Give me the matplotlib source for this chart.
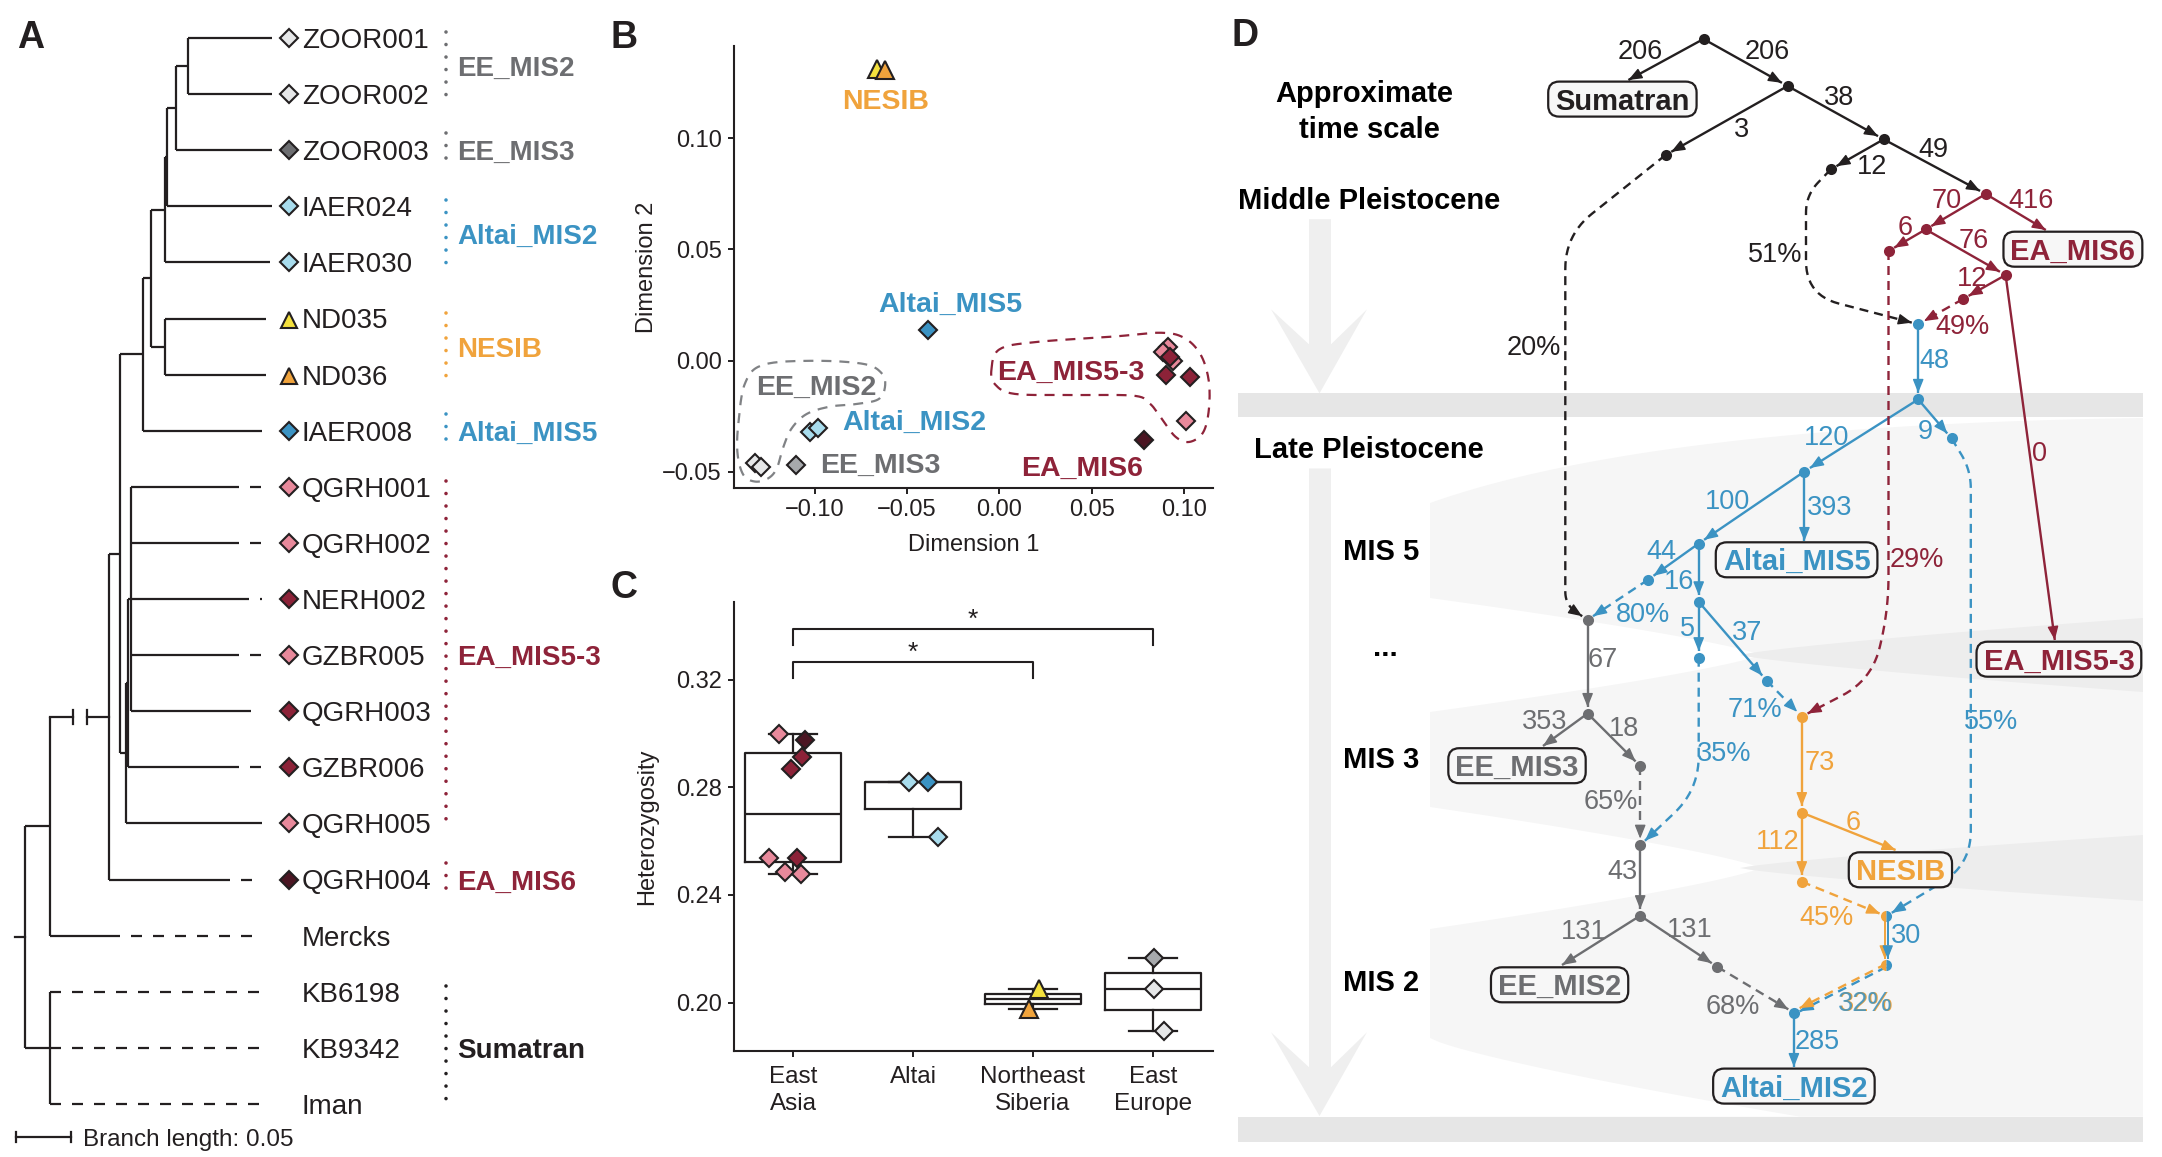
import numpy as np
import matplotlib
matplotlib.use("Agg")
import matplotlib.pyplot as plt
from matplotlib.patches import FancyBboxPatch, Polygon, Rectangle
from matplotlib.ticker import FuncFormatter

W, H = 2162, 1157
plt.rcParams["font.family"] = ["Liberation Sans", "DejaVu Sans"]
NARROW = ["Liberation Sans Narrow", "Liberation Sans", "DejaVu Sans"]

INK = "#231f20"
GREY = "#6d6e71"
BLUE = "#3b93c3"
ORANGE = "#f0a33c"
RED = "#8e2339"
PINK = "#e8899b"
CRIMSON = "#8c2238"
DARKRED = "#4b1623"
LIGHTBLUE = "#a8dced"
YELLOW = "#f4e03d"
MIDGREY = "#a7a9ac"
PALEGREY = "#e6e7e8"

# ---------------- panel A: tree ----------------
tip_names = ["ZOOR001", "ZOOR002", "ZOOR003", "IAER024", "IAER030", "ND035", "ND036",
             "IAER008", "QGRH001", "QGRH002", "NERH002", "GZBR005", "QGRH003", "GZBR006",
             "QGRH005", "QGRH004", "Mercks", "KB6198", "KB9342", "Iman"]
tip_solid_end = [272, 272, 272, 272, 270, 266, 266, 262, 239, 239, 249, 239, 251, 239,
                 262, 230, 109, 50, 50, 50]
tip_fill = [PALEGREY, PALEGREY, GREY, LIGHTBLUE, LIGHTBLUE, YELLOW, ORANGE, BLUE,
            PINK, PINK, CRIMSON, PINK, CRIMSON, CRIMSON, PINK, DARKRED, None, None, None, None]
tip_marker = ["D"] * 5 + ["^"] * 2 + ["D"] * 9 + [None] * 4
# internal nodes: name -> (x in px, children)
tree_nodes = {
    "zoor12": (187.5, [0, 1]),
    "zoor": (176, ["zoor12", 2]),
    "n_a": (167, ["zoor", 3]),
    "n_b": (165, ["n_a", 4]),
    "nes": (165, [5, 6]),
    "n_c": (151, ["n_b", "nes"]),
    "n_d": (143, ["n_c", 7]),
    "ea2": (131, [8, 9, 10, 11, 12]),
    "ea1": (128, ["ea2", 13]),
    "ea": (126, ["ea1", 14]),
    "n_e": (120, ["n_d", "ea"]),
    "n_f": (109, ["n_e", 15]),
    "n_g": (50, ["n_f", 16]),
    "sum": (50, [17, 18, 19]),
    "root": (25, ["n_g", "sum"]),
}
groups_A = [("EE_MIS2", 0, 1, GREY), ("EE_MIS3", 2, 2, GREY), ("Altai_MIS2", 3, 4, BLUE),
            ("NESIB", 5, 6, ORANGE), ("Altai_MIS5", 7, 7, BLUE), ("EA_MIS5-3", 8, 14, RED),
            ("EA_MIS6", 15, 15, RED), ("Sumatran", 17, 19, INK)]

# ---------------- panel B: MDS ----------------
pc_x = [-0.0663, -0.0621, -0.0385, 0.0912, 0.0887, 0.0941, 0.0925, 0.0905, 0.1031, 0.1013,
        0.0785, -0.1025, -0.0980, -0.1101, -0.1323, -0.1292]
pc_y = [0.1312, 0.1304, 0.0137, 0.0062, 0.0040, -0.0004, 0.0015, -0.0064, -0.0072, -0.0270,
        -0.0357, -0.0319, -0.0304, -0.0469, -0.0461, -0.0479]
pc_fill = [YELLOW, ORANGE, BLUE, PINK, PINK, PINK, CRIMSON, CRIMSON, CRIMSON, PINK,
           DARKRED, LIGHTBLUE, LIGHTBLUE, MIDGREY, PALEGREY, PALEGREY]
pc_marker = ["^", "^"] + ["D"] * 14
b_labels = ["NESIB", "Altai_MIS5", "EA_MIS5-3", "EE_MIS2", "Altai_MIS2", "EE_MIS3", "EA_MIS6"]
b_lab_x = [-0.0616, -0.0267, 0.0385, -0.0989, -0.0460, -0.0642, 0.0449]
b_lab_y = [0.1176, 0.0266, -0.0042, -0.0109, -0.0266, -0.0458, -0.0474]
b_lab_col = [ORANGE, BLUE, RED, GREY, BLUE, GREY, RED]
hull_ee_x = [-0.1413, -0.1377, -0.1278, -0.1007, -0.0736, -0.0637, -0.0619, -0.0655, -0.0772,
             -0.0917, -0.1043, -0.1124, -0.1169, -0.1205, -0.1251, -0.1322, -0.1386, -0.1418]
hull_ee_y = [-0.0281, -0.0102, -0.0019, -0.0001, -0.0015, -0.0057, -0.0117, -0.0174, -0.0195,
             -0.0207, -0.0240, -0.0304, -0.0387, -0.0484, -0.0529, -0.0544, -0.0514, -0.0416]
hull_ea_x = [-0.0043, 0.0000, 0.0193, 0.0620, 0.0877, 0.1005, 0.1091, 0.1134, 0.1134, 0.1102,
             0.1027, 0.0952, 0.0877, 0.0813, 0.0727, 0.0406, 0.0085, -0.0022]
hull_ea_y = [-0.0042, 0.0050, 0.0083, 0.0108, 0.0125, 0.0100, 0.0025, -0.0091, -0.0225, -0.0325,
             -0.0366, -0.0341, -0.0258, -0.0192, -0.0158, -0.0155, -0.0150, -0.0108]

# ---------------- panel C: heterozygosity ----------------
regions = ["East\nAsia", "Altai", "Northeast\nSiberia", "East\nEurope"]
het_x = [[0.881, 1.096, 1.079, 0.984, 0.802, 1.030, 0.931, 1.066],
         [1.963, 2.128, 2.210],
         [3.050, 2.970],
         [4.007, 4.007, 4.090]]
het_y = [[0.2999, 0.2978, 0.2913, 0.2867, 0.2538, 0.2537, 0.2487, 0.2478],
         [0.2820, 0.2820, 0.2616],
         [0.2052, 0.1977],
         [0.2166, 0.2052, 0.1894]]
het_fill = [[PINK, DARKRED, CRIMSON, CRIMSON, PINK, CRIMSON, PINK, PINK],
            [LIGHTBLUE, BLUE, LIGHTBLUE],
            [YELLOW, ORANGE],
            [MIDGREY, PALEGREY, PALEGREY]]
het_marker = ["D", "D", "^", "D"]
sig_pairs = [(1, 3, 0.3267), (1, 4, 0.3389)]

# ---------------- panel D: admixture graph ----------------
d_nodes = {
    "root": (1703.5, 39), "a": (1787.6, 86), "b": (1883.7, 139.3), "c": (1665.6, 155),
    "d": (1830.8, 169.4),
    "r1": (1985.8, 194), "r2": (1925.7, 229.4), "r3": (1888.5, 251), "r4": (2005.6, 275),
    "r5": (1962.9, 299.1),
    "b1": (1918.2, 324.3), "b2": (1918.2, 399.4), "b3": (1951.5, 438.4), "b4": (1804.4, 471.5),
    "b5": (1698.7, 543.5), "b6": (1648.2, 579.6), "b7": (1698.7, 601.8), "b8": (1698.7, 657.7),
    "b9": (1766.5, 680.5),
    "g1": (1587.6, 619.8), "g2": (1587.6, 713.5), "g3": (1640.2, 766), "g4": (1640.2, 845.2),
    "g5": (1640.2, 915.7), "g6": (1717.2, 966.8),
    "o1": (1801.8, 716.5), "o2": (1801.8, 812.6), "o3": (1801.8, 881.7),
    "m1": (1886.2, 916.2), "m2": (1886.2, 965.4), "bf": (1793.9, 1012.7),
}
node_col = {"root": INK, "a": INK, "b": INK, "c": INK, "d": INK, "bf": BLUE}
d_boxes = [("Sumatran", 1622.4, 99.1, INK), ("EA_MIS6", 2072.9, 249.2, RED),
           ("Altai_MIS5", 1796.6, 559.8, BLUE), ("EA_MIS5-3", 2058.9, 659.2, RED),
           ("EE_MIS3", 1517, 765.7, GREY), ("NESIB", 1900.4, 869.8, ORANGE),
           ("EE_MIS2", 1559.6, 984.8, GREY), ("Altai_MIS2", 1793.9, 1086.1, BLUE)]
box_tip = {"Sumatran": (1628.4, 80), "EA_MIS6": (2045.8, 230), "EA_MIS5-3": (2054.8, 640),
           "Altai_MIS5": (1804.4, 541), "Altai_MIS2": (1793.9, 1067), "EE_MIS3": (1543, 746),
           "EE_MIS2": (1562, 965), "NESIB": (1895.6, 850)}
d_edges = [
    ("root", "Sumatran", INK, "206", (1640.4, 49.2)),
    ("root", "a", INK, "206", (1767.7, 49.2)),
    ("a", "b", INK, "38", (1838.6, 94.9)),
    ("a", "c", INK, "3", (1741.3, 127.3)),
    ("b", "d", INK, "12", (1871.6, 164)),
    ("b", "r1", INK, "49", (1933.5, 147.1)),
    ("r1", "r2", RED, "70", (1946.7, 198.2)),
    ("r1", "EA_MIS6", RED, "416", (2030.8, 198.2)),
    ("r2", "r3", RED, "6", (1904.7, 225.2)),
    ("r2", "r4", RED, "76", (1973.8, 238.4)),
    ("r4", "r5", RED, "12", (1972, 276.3)),
    ("r4", "EA_MIS5-3", RED, "0", (2039.8, 451.7)),
    ("b1", "b2", BLUE, "48", (1934.7, 358.6)),
    ("b2", "b4", BLUE, "120", (1826.6, 435.4)),
    ("b2", "b3", BLUE, "9", (1925.7, 429.4)),
    ("b4", "b5", BLUE, "100", (1727.5, 499.7)),
    ("b4", "Altai_MIS5", BLUE, "393", (1829.6, 505.7)),
    ("b5", "b6", BLUE, "44", (1661.4, 549.5)),
    ("b5", "b7", BLUE, "16", (1679.5, 579.6)),
    ("b7", "b8", BLUE, "5", (1687.3, 625.8)),
    ("b7", "b9", BLUE, "37", (1747.3, 630.6)),
    ("g1", "g2", GREY, "67", (1603.2, 657.7)),
    ("g2", "EE_MIS3", GREY, "353", (1544.3, 718.9)),
    ("g2", "g3", GREY, "18", (1623.6, 726.7)),
    ("g4", "g5", GREY, "43", (1622.4, 869.7)),
    ("g5", "EE_MIS2", GREY, "131", (1584.2, 929)),
    ("g5", "g6", GREY, "131", (1689.8, 927.6)),
    ("o1", "o2", ORANGE, "73", (1819.4, 759.8)),
    ("o2", "o3", ORANGE, "112", (1777.4, 839.6)),
    ("o2", "NESIB", ORANGE, "6", (1853.6, 819.8)),
    ("bf", "Altai_MIS2", BLUE, "285", (1817.5, 1039.2)),
]
# admixture (dashed) edges: start, bends, end
d_admix = [
    (["c", (1565.3, 235), (1565.3, 605), "g1"], INK, "20%", (1534.1, 345.3)),
    (["d", (1806, 195), (1806, 295), "b1"], INK, "51%", (1775.6, 252.3)),
    (["r5", "b1"], RED, "49%", (1963, 324.3)),
    (["r3", (1888.5, 610), (1872, 680), "o1"], RED, "29%", (1916.7, 556.8)),
    (["b6", "g1"], BLUE, "80%", (1643.4, 612.6)),
    (["b8", (1698.7, 790), "g4"], BLUE, "35%", (1724.5, 750.8)),
    (["b9", "o1"], BLUE, "71%", (1754.5, 707.5)),
    (["g3", "g4"], GREY, "65%", (1610.4, 798.8)),
    (["b3", (1970.8, 470), (1970.8, 865), "m1"], BLUE, "55%", (1990.8, 719)),
    (["o3", "m1"], ORANGE, "45%", (1827, 914.8)),
    (["g6", "bf"], GREY, "68%", (1732.4, 1004.7)),
    (["m2", "bf"], ORANGE, "32%", (1864.9, 1000.9)),
]
time_labels = [("Approximate", 1364, 91.9), ("time scale", 1369, 127.3),
               ("Middle Pleistocene", 1369, 198.2), ("Late Pleistocene", 1369, 447.4),
               ("MIS 5", 1381, 549.5), ("...", 1385, 646), ("MIS 3", 1381, 758),
               ("MIS 2", 1381, 980.8)]


def dash(on, off, lw, start_off=False):
    k = 0.72 / lw
    return ((on * k) if start_off else 0, (on * k, off * k))


def ptext(ax, x, y, s, fs, **kw):
    # place text so that the cap-height centre sits at y (pixel axes, y down)
    return ax.text(x, y + 0.36 * fs * 100 / 72, s, fontsize=fs, va="baseline", **kw)


def dtext(ax, x, y, s, fs, **kw):
    return ax.annotate(s, (x, y), xytext=(0, -0.36 * fs), textcoords="offset points",
                       fontsize=fs, va="baseline", **kw)


def smooth_closed(xs, ys, n=16):
    P = np.column_stack([xs, ys])
    N = len(P)
    t = np.linspace(0, 1, n, endpoint=False)[:, None]
    out = []
    for i in range(N):
        p0, p1, p2, p3 = P[i - 1], P[i], P[(i + 1) % N], P[(i + 2) % N]
        out.append(0.5 * (2 * p1 + (-p0 + p2) * t + (2 * p0 - 5 * p1 + 4 * p2 - p3) * t ** 2
                          + (-p0 + 3 * p1 - 3 * p2 + p3) * t ** 3))
    out = np.vstack(out)
    return np.vstack([out, out[:1]])


def rounded(corners, r=30, n=14):
    P = np.asarray(corners, float)
    out = [P[0]]
    for i in range(1, len(P) - 1):
        a, b, c = P[i - 1], P[i], P[i + 1]
        la, lc = np.linalg.norm(a - b), np.linalg.norm(c - b)
        rr = min(r, la / 2, lc / 2)
        s = b + (a - b) / la * rr
        e = b + (c - b) / lc * rr
        t = np.linspace(0, 1, n)[:, None]
        out.extend((1 - t) ** 2 * s + 2 * (1 - t) * t * b + t ** 2 * e)
    out.append(P[-1])
    return np.array(out)


fig = plt.figure(figsize=(W / 100, H / 100), dpi=100)
axF = fig.add_axes([0, 0, 1, 1])
axF.set_xlim(0, W)
axF.set_ylim(H, 0)
axF.axis("off")

# ---------- panel letters ----------
for letter, x, y in [("A", 31, 34), ("B", 624, 35), ("C", 624, 585), ("D", 1245, 33)]:
    ptext(axF, x, y, letter, 27, weight="bold", ha="center", color=INK)

# ---------- panel A ----------
row0, drow = 38, 56.1
tip_y = row0 + drow * np.arange(len(tip_names))
LWA = 1.6
node_y = {}


def get_y(k):
    if isinstance(k, int):
        return tip_y[k]
    if k not in node_y:
        ch = tree_nodes[k][1]
        node_y[k] = (get_y(ch[0]) + get_y(ch[-1])) / 2
    return node_y[k]


for name, (x, ch) in tree_nodes.items():
    ys = [get_y(c) for c in ch]
    axF.plot([x, x], [min(ys), max(ys)], color=INK, lw=LWA, solid_capstyle="butt")
    for c, yc in zip(ch, ys):
        if isinstance(c, int):
            x_end = tip_solid_end[c]
            if x_end > x:
                axF.plot([x, x_end], [yc, yc], color=INK, lw=LWA, solid_capstyle="butt")
            if x_end < 262:
                gap = x_end < 200
                axF.plot([x_end, 262], [yc, yc], color=INK, lw=LWA,
                         ls=dash(11, 11, LWA, start_off=not gap))
        elif name == "n_g":
            # broken (shortened) branch
            xc = tree_nodes[c][0]
            axF.plot([x, 72.7], [yc, yc], color=INK, lw=LWA)
            axF.plot([87.3, xc], [yc, yc], color=INK, lw=LWA)
            for xb in (72.7, 87.3):
                axF.plot([xb, xb], [yc - 7, yc + 7], color=INK, lw=LWA)
        else:
            axF.plot([x, tree_nodes[c][0]], [yc, yc], color=INK, lw=LWA, solid_capstyle="butt")
ry = get_y("root")
axF.plot([15, 25], [ry, ry], color=INK, lw=LWA)

for i, name in enumerate(tip_names):
    if tip_marker[i] is not None:
        ms = 12 if tip_marker[i] == "^" else 9
        axF.plot(289, tip_y[i] + (1 if tip_marker[i] == "^" else 0), marker=tip_marker[i],
                 ms=ms, mfc=tip_fill[i], mec=INK, mew=1.5, zorder=5)
    ptext(axF, 302, tip_y[i], name, 20, color=INK)

for label, i0, i1, col in groups_A:
    e = 17 if i0 == i1 else 6
    y0, y1 = tip_y[i0] - e, tip_y[i1] + e
    axF.plot([446, 446], [y0, y1], color=col, lw=2.6, ls=dash(0.01, 12.5, 2.6),
             dash_capstyle="round")
    ptext(axF, 457, (y0 + y1) / 2, label, 20, color=col, weight="bold")

axF.plot([15.5, 70.8], [1137, 1137], color=INK, lw=LWA)
for xb in (15.5, 70.8):
    axF.plot([xb, xb], [1132, 1142], color=INK, lw=LWA)
ptext(axF, 83, 1137, "Branch length: 0.05", 17.5, color=INK)

# ---------- panel B ----------
def setup_axes(ax):
    for s in ("top", "right"):
        ax.spines[s].set_visible(False)
    for s in ("left", "bottom"):
        ax.spines[s].set_linewidth(1.5)
        ax.spines[s].set_color(INK)
    ax.tick_params(direction="out", length=4.5, width=1.4, labelsize=17, pad=4, colors=INK)
    ax.patch.set_alpha(0)


axB = fig.add_axes([733.6 / W, 1 - 487.6 / H, (1213 - 733.6) / W, (487.6 - 46.2) / H])
setup_axes(axB)
axB.set_xlim(-0.1439, 0.1157)
axB.set_ylim(-0.0571, 0.1413)
axB.set_xticks([-0.10, -0.05, 0.0, 0.05, 0.10])
axB.set_yticks([-0.05, 0.0, 0.05, 0.10])
fmt = FuncFormatter(lambda v, p: f"{v:.2f}".replace("-", "\u2212"))
axB.xaxis.set_major_formatter(fmt)
axB.yaxis.set_major_formatter(fmt)
axB.set_xlabel("Dimension 1", fontsize=17, color=INK)
axB.set_ylabel("Dimension 2", fontsize=17, color=INK)
axB.xaxis.set_label_coords(0.5, -0.131)
axB.xaxis.label.set_va("center")
axB.yaxis.set_label_coords(-0.181, 0.5)
axB.yaxis.label.set_va("center")

for hx, hy, col in [(hull_ee_x, hull_ee_y, "#808285"), (hull_ea_x, hull_ea_y, RED)]:
    c = smooth_closed(hx, hy)
    axB.plot(c[:, 0], c[:, 1], color=col, lw=1.6, ls=dash(10, 8, 1.6), clip_on=False)
for x, y, f, m in zip(pc_x, pc_y, pc_fill, pc_marker):
    axB.plot(x, y, marker=m, ms=12.5 if m == "^" else 9.3, mfc=f, mec=INK, mew=1.5,
             zorder=5, clip_on=False)
for s, x, y, col in zip(b_labels, b_lab_x, b_lab_y, b_lab_col):
    dtext(axB, x, y, s, 20.5, color=col, weight="bold", ha="center")

# ---------- panel C ----------
axC = fig.add_axes([733.6 / W, 1 - 1051.2 / H, (1213 - 733.6) / W, (1051.2 - 601.9) / H])
setup_axes(axC)
axC.set_xlim(0.505, 4.5)
axC.set_ylim(0.1819, 0.349)
axC.set_yticks([0.20, 0.24, 0.28, 0.32])
axC.yaxis.set_major_formatter(FuncFormatter(lambda v, p: f"{v:.2f}"))
axC.set_xticks([1, 2, 3, 4])
axC.set_xticklabels(regions, fontsize=17.5, linespacing=1.3)
axC.tick_params(axis="x", pad=6)
axC.set_ylabel("Heterozygosity", fontsize=17, color=INK)
axC.yaxis.set_label_coords(-0.18, 0.5)
axC.yaxis.label.set_va("center")
lineprops = dict(color=INK, lw=1.6)
axC.boxplot(het_y, positions=[1, 2, 3, 4], widths=0.8, capwidths=0.4, showfliers=False,
            boxprops=lineprops, whiskerprops=lineprops, capprops=lineprops,
            medianprops=lineprops, manage_ticks=False)
for xs, ys, fs, m in zip(het_x, het_y, het_fill, het_marker):
    for x, y, f in zip(xs, ys, fs):
        axC.plot(x, y, marker=m, ms=12.5 if m == "^" else 9.3, mfc=f, mec=INK, mew=1.5,
                 zorder=5)
for g0, g1, yb in sig_pairs:
    axC.plot([g0, g0, g1, g1], [yb - 0.006, yb, yb, yb - 0.006], color=INK, lw=1.5)
    axC.text((g0 + g1) / 2, yb - 0.0012, "*", ha="center", va="bottom", fontsize=19, color=INK)

# ---------- panel D ----------
LWD = 1.7
BG = "#f6f6f6"
# grey time bands
axF.add_patch(Rectangle((1238, 393.4), 905, 24, fc="#e6e6e6", ec="none", zorder=0))
axF.add_patch(Rectangle((1238, 1116.7), 905, 25.2, fc="#e6e6e6", ec="none", zorder=0))
# shaded late-pleistocene area
t = np.linspace(0, 1, 40)[:, None]
top_curve = (1 - t) ** 2 * np.array([1430, 503]) + 2 * (1 - t) * t * np.array([1650, 425]) \
    + t ** 2 * np.array([2143, 418])
shade = np.vstack([top_curve, [[2143, 1116.7], [1430, 1116.7]]])
axF.add_patch(Polygon(shade, closed=True, fc=BG, ec="none", zorder=0))


def wedge(x_wide, x_point, y_top, y_bot, col, p=0.8):
    xs = np.linspace(x_wide, x_point, 40)
    f = np.abs((x_point - xs) / (x_point - x_wide)) ** p
    yc = (y_top + y_bot) / 2
    top = yc - (yc - y_top) * f
    bot = yc + (y_bot - yc) * f
    pts = np.vstack([np.column_stack([xs, top]), np.column_stack([xs[::-1], bot[::-1]])])
    axF.add_patch(Polygon(pts, closed=True, fc=col, ec="none", zorder=0))


wedge(1430, 1760, 598, 712, "white")
wedge(2143, 1740, 618, 692, "#ededed")
wedge(1430, 1760, 807, 929, "white")
wedge(2143, 1740, 835, 901, "#ededed")
xs = np.linspace(1430, 1800, 40)
ytop = 1038 + (1116.7 - 1038) * ((xs - 1430) / 370) ** 0.8
axF.add_patch(Polygon(np.vstack([np.column_stack([xs, ytop]), [[1430, 1116.7]]]),
                      closed=True, fc="white", ec="none", zorder=0))


def fat_arrow(top, corner, tip):
    junction = corner + 35
    pts = [(1309, top), (1309, junction), (1271, corner), (1319.5, tip), (1367, corner),
           (1331, junction), (1331, top)]
    axF.add_patch(Polygon(pts, closed=True, fc="#efefef", ec="none", zorder=0.5))


fat_arrow(219.2, 309.3, 393.4)
fat_arrow(468.5, 1032.2, 1116)

for s, x, y in time_labels:
    ptext(axF, x, y, s, 21, weight="bold", ha="center", color="black", family=NARROW)


def pos(k):
    return np.array(d_nodes[k] if isinstance(k, str) else k, float)


def draw_path(pts, color, dashed=False, shrink=6.5, lw=LWD):
    pts = np.asarray(pts, float)
    u = pts[-1] - pts[-2]
    u = u / np.linalg.norm(u)
    tip = pts[-1] - u * shrink
    pts = np.vstack([pts[:-1], tip])
    ls = dash(9, 6, lw) if dashed else "-"
    axF.plot(pts[:, 0], pts[:, 1], color=color, lw=lw, ls=ls, solid_capstyle="butt", zorder=3)
    axF.annotate("", xy=tip, xytext=tip - u * 8,
                 arrowprops=dict(arrowstyle="-|>,head_length=0.55,head_width=0.22",
                                 color=color, lw=lw * 0.6, shrinkA=0, shrinkB=0,
                                 mutation_scale=15), zorder=4)


EFS = 19.5
for a, b, col, lab, lxy in d_edges:
    if b in box_tip:
        draw_path([pos(a), box_tip[b]], col, shrink=0)
    else:
        draw_path([pos(a), pos(b)], col)
    ptext(axF, lxy[0], lxy[1], lab, EFS, color=col, ha="center", family=NARROW, zorder=6)

for route, col, lab, lxy in d_admix:
    corners = [pos(k) for k in route]
    path = rounded(corners, r=34)
    if route[0] == "m2":
        off = np.array([0.0, 1.6])
        draw_path(path + off, BLUE, dashed=True)
        draw_path(path - off, ORANGE, dashed=True)
        ptext(axF, lxy[0] + 1, lxy[1], lab, EFS, color=ORANGE, ha="center", family=NARROW)
        ptext(axF, lxy[0], lxy[1], lab, EFS, color=BLUE, ha="center", family=NARROW,
              alpha=0.85)
    else:
        draw_path(path, col, dashed=True)
        ptext(axF, lxy[0], lxy[1], lab, EFS, color=col, ha="center", family=NARROW, zorder=6)

# mixed orange / blue branch
m1, m2 = pos("m1"), pos("m2")
for dx, col in [(-1.5, ORANGE), (1.5, BLUE)]:
    draw_path([m1 + [dx, 0], m2 + [dx, 0]], col, lw=1.4)
ptext(axF, 1906.5, 932.8, "30", EFS, color=BLUE, ha="center", family=NARROW)

for k, (x, y) in d_nodes.items():
    if k in ("m1", "m2"):
        axF.plot(x, y, marker="o", ms=8, mfc=ORANGE, mfcalt=BLUE, fillstyle="left",
                 mec="none", zorder=7)
        continue
    col = node_col.get(k, {"r": RED, "b": BLUE, "g": GREY, "o": ORANGE}.get(k[0], INK))
    axF.plot(x, y, marker="o", ms=8, color=col, mec="none", zorder=7)

renderer = fig.canvas.get_renderer()
for name, x, y, col in d_boxes:
    t = ptext(axF, x, y, name, 21, color=col, weight="bold", ha="center", family=NARROW,
              zorder=9)
    w = t.get_window_extent(renderer).width + 14
    axF.add_patch(FancyBboxPatch((x - w / 2, y - 17.5), w, 35,
                                 boxstyle="round,pad=0,rounding_size=11",
                                 fc="#f7f7f7", ec=INK, lw=1.6, zorder=8))

fig.savefig("out.png", dpi=100)
